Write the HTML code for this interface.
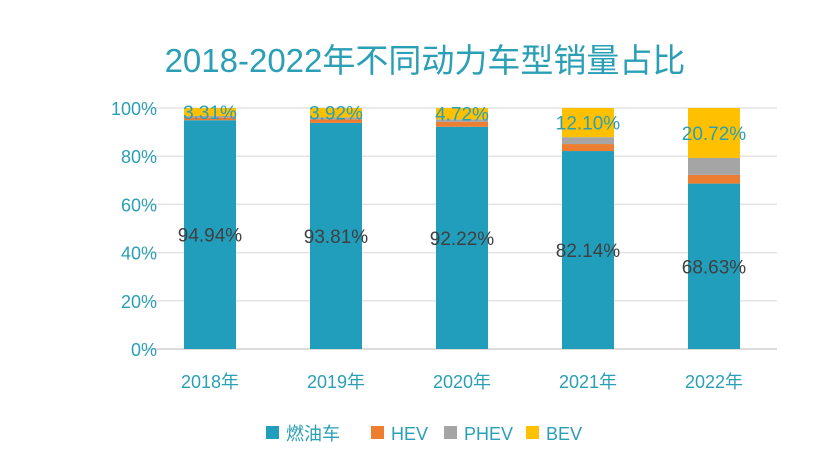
<!DOCTYPE html>
<html><head><meta charset="utf-8"><style>
body{margin:0;background:#fff;}
svg text{font-family:"Liberation Sans","Noto Sans CJK SC",sans-serif;}
</style></head><body>
<svg id="c" width="830" height="455">
<text x="425" y="72" text-anchor="middle" font-size="33" fill="#2a9fb5">2018-2022年不同动力车型销量占比</text>
<g id="grid"></g><g id="bars"></g><g id="labels"></g><g id="legend"></g>
</svg>
<script>
const categories=["2018年","2019年","2020年","2021年","2022年"];
const fuel=[94.94,93.81,92.22,82.14,68.63];
const hev=[1.2,1.5,2.0,2.9,3.6];
const phev=[0.55,0.77,1.06,2.86,7.05];
const bev=[3.31,3.92,4.72,12.10,20.72];
const yTicks=[0,20,40,60,80,100];
const seriesNames=["燃油车","HEV","PHEV","BEV"];
const colors=["#219ebc","#ed7d31","#a5a5a5","#ffc000"];
const NS="http://www.w3.org/2000/svg";
const x0=147,x1=777,yTop=108,yBot=349;
const y=v=>yBot-(v/100)*(yBot-yTop);
const band=(x1-x0)/categories.length;
const xc=i=>x0+band*(i+0.5);
const bw=52;
function mk(tag,attrs,parent){const e=document.createElementNS(NS,tag);for(const k in attrs)e.setAttribute(k,attrs[k]);document.getElementById(parent).appendChild(e);return e;}
yTicks.forEach(t=>{
  const l=mk('line',{x1:x0,x2:x1,y1:y(t),y2:y(t),stroke:t===0?'#d0d0d0':'#e3e3e3','stroke-width':1.5},'grid');
  
  
  const tx=mk('text',{x:157,y:y(t)+7,'text-anchor':'end','font-size':18,fill:'#2a9fb5'},'grid');
  tx.textContent=t+'%';
  
  
});
const series=[fuel,hev,phev,bev];
categories.forEach((c,i)=>{
  let acc=0;
  series.forEach((s,k)=>{
    const r=mk('rect',{x:xc(i)-bw/2,y:y(acc+s[i]),width:bw,height:y(acc)-y(acc+s[i]),fill:colors[k]},'bars');
    
    
    acc+=s[i];
  });
  const f=mk('text',{x:xc(i),y:y(fuel[i]/2)+7,'text-anchor':'middle','font-size':19,fill:'#404040'},'labels');
  f.textContent=fuel[i].toFixed(2)+'%';
  
  
  const b=mk('text',{x:xc(i),y:y(100-bev[i]/2)+7,'text-anchor':'middle','font-size':19,fill:'#2a9fb5'},'labels');
  b.textContent=bev[i].toFixed(2)+'%';
  
  
  const cx=mk('text',{x:xc(i),y:388,'text-anchor':'middle','font-size':18,fill:'#2a9fb5'},'labels');
  cx.textContent=c;
  
  
});
const lx=[266,371,444,526];
seriesNames.forEach((n,k)=>{
  const r=mk('rect',{x:lx[k],y:426,width:13,height:13,fill:colors[k]},'legend');
  
  
  const t=mk('text',{x:lx[k]+20,y:440,'font-size':18,fill:'#2a9fb5'},'legend');
  t.textContent=n;
  
  
});
</script>
</body></html>
